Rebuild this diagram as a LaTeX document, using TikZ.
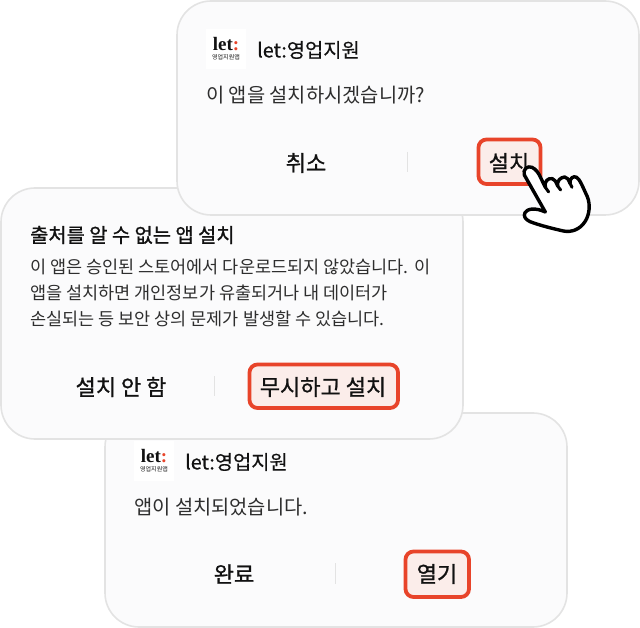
\documentclass[tikz,border=0pt]{standalone}
\usepackage{fontspec}
\setmainfont{Noto Sans CJK KR}
\newfontfamily\medfont[FakeBold=0.4]{Noto Sans CJK KR}
\newfontfamily\semifont[FakeBold=1.0]{Noto Sans CJK KR}
\newfontfamily\logofont{Liberation Serif}[BoldFont={Liberation Serif Bold}]
\definecolor{cardfill}{HTML}{FBFBFC}
\definecolor{cardline}{HTML}{E3E3E3}
\definecolor{accent}{HTML}{E8442A}
\definecolor{btnfill}{HTML}{FBEDEA}
\definecolor{bodyink}{HTML}{2E2E2E}
\definecolor{titleink}{HTML}{111111}
\tikzset{
  x=1pt,y=-1pt,
  card/.style={draw=cardline,fill=cardfill,line width=1.6pt,rounded corners=34pt},
  hot/.style={draw=accent,fill=btnfill,line width=3.8pt,rounded corners=8pt},
  divider/.style={draw=cardline,line width=1pt},
  appname/.style={anchor=west,inner sep=0pt,font=\medfont\fontsize{19.8}{22}\selectfont,text=titleink},
  body/.style={anchor=west,inner sep=0pt,font=\fontsize{19.8}{22}\selectfont,text=bodyink},
  small/.style={anchor=west,inner sep=0pt,font=\fontsize{17.5}{20}\selectfont,text=bodyink},
  headline/.style={anchor=west,inner sep=0pt,font=\semifont\fontsize{19.8}{22}\selectfont,text=titleink},
  action/.style={inner sep=0pt,font=\semifont\fontsize{22}{24}\selectfont,text=titleink},
  logobox/.style={fill=white,draw=none,minimum size=40pt,inner sep=0pt},
  logotext/.style={inner sep=0pt,font=\logofont\bfseries\fontsize{19}{20}\selectfont,text=titleink},
  logosub/.style={inner sep=0pt,font=\fontsize{6}{7}\selectfont,text=titleink},
}
\newcommand{\applogo}[3]{%
  \node[logobox] (#3box) at (#1,#2) {};
  \node[logotext] (#3let) at (#1,#2-5) {let\textcolor{accent}{:}};
  \node[logosub] (#3sub) at (#1,#2+8) {영업지원앱};
}
\begin{document}
\begin{tikzpicture}
\useasboundingbox (0,0) rectangle (640,628);
% bottom card
\draw[card] (105,413) rectangle (567,627);
\applogo{154}{461}{c}
\node[appname] (cname) at (185,462) {let:영업지원};
\node[body] (cmsg) at (134,507) {앱이 설치되었습니다.};
\node[action] (cdone) at (234,574) {완료};
\draw[divider] (335,563) -- (335,584);
\draw[hot] (405.5,551.5) rectangle (469,597);
\node[action] (copen) at (437,574) {열기};
% middle card
\draw[card] (1,188) rectangle (463,439);
\node[headline] (btitle) at (30,235) {출처를 알 수 없는 앱 설치};
\node[small] (bl1) at (30,267) {이 앱은 승인된 스토어에서 다운로드되지 않았습니다. 이};
\node[small] (bl2) at (30,293) {앱을 설치하면 개인정보가 유출되거나 내 데이터가};
\node[small] (bl3) at (30,319) {손실되는 등 보안 상의 문제가 발생할 수 있습니다.};
\node[action] (bno) at (121,387) {설치 안 함};
\draw[divider] (214,376) -- (214,396);
\draw[hot] (249.5,364.5) rectangle (398,408);
\node[action] (byes) at (323,387) {무시하고 설치};
% top card
\draw[card] (177,1) rectangle (639,215);
\applogo{226}{49}{a}
\node[appname] (aname) at (257,50) {let:영업지원};
\node[body] (amsg) at (206,95) {이 앱을 설치하시겠습니까?};
\node[action] (acancel) at (306,163) {취소};
\draw[divider] (407,152) -- (407,172);
\draw[hot] (478.5,139.5) rectangle (540.5,184);
\node[action] (ainstall) at (509,163) {설치};
% hand
\begin{scope}[shift={(470,130)},x=0.3333pt,y=-0.3333pt]
\draw[fill=white,draw=black,line width=3.4pt,line join=round,line cap=round]
  (163,135) .. controls (158,118) and (172,106) .. (186,112)
  .. controls (198,118) and (205,128) .. (211,141)
  -- (226,172)
  .. controls (222,155) and (234,143) .. (247,146)
  .. controls (254,148) and (258,155) .. (263,168)
  .. controls (260,152) and (272,142) .. (284,141)
  .. controls (292,141) and (296,150) .. (300,160)
  .. controls (298,146) and (310,136) .. (320,142)
  .. controls (330,148) and (340,175) .. (352,200)
  .. controls (362,225) and (358,255) .. (345,275)
  .. controls (330,298) and (305,308) .. (280,303)
  .. controls (250,296) and (215,288) .. (180,275)
  .. controls (165,268) and (160,258) .. (165,248)
  .. controls (172,236) and (195,232) .. (226,246)
  -- (163,135) -- cycle;
\draw[line width=3pt,line cap=round] (226,172) -- (236,186);
\draw[line width=3pt,line cap=round] (263,168) -- (272,180);
\draw[line width=3pt,line cap=round] (300,160) -- (306,172);
\end{scope}
\end{tikzpicture}
\end{document}
